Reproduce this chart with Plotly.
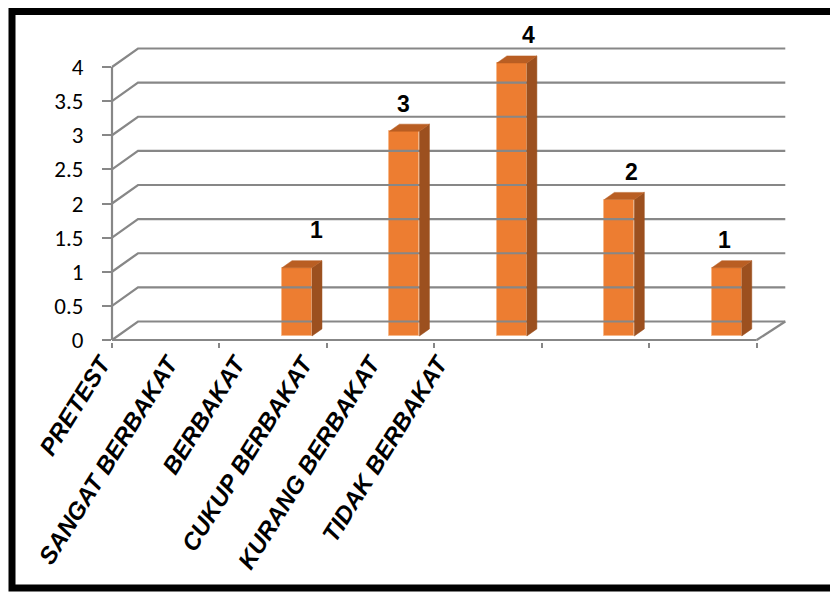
import plotly.graph_objects as go

# ---------------- data ----------------
categories = ["PRETEST", "SANGAT BERBAKAT", "BERBAKAT", "CUKUP BERBAKAT",
              "KURANG BERBAKAT", "TIDAK BERBAKAT"]
values = [0, 1, 3, 4, 2, 1]
y_tickvals = [0, 0.5, 1, 1.5, 2, 2.5, 3, 3.5, 4]
y_ticktext = ["0", "0.5", "1", "1.5", "2", "2.5", "3", "3.5", "4"]

# ---------------- geometry / style ----------------
W, H = 830, 592
X0_PX, CW_PX = 112.0, 107.45      # front plane: category edge 0 and px per category
Y0_PX, VH_PX = 340.0, 68.25       # front plane: value 0 and px per unit
DEP_DX_PX, DEP_DY_PX = 26.0, 18.5  # full depth shift (px)
DDX = DEP_DX_PX / CW_PX
DDY = DEP_DY_PX / VH_PX
BACK_SCALE = 1.004                 # slight perspective on back wall

PLOT_L, PLOT_R, PLOT_T, PLOT_B = 20, 815, 18, 342
YAXIS_PX = 111
xmin = (PLOT_L - X0_PX) / CW_PX
xmax = (PLOT_R - X0_PX) / CW_PX
ymin = (Y0_PX - PLOT_B) / VH_PX
ymax = (Y0_PX - PLOT_T) / VH_PX

GRID = "#878787"
FRONT = "#ED7D31"
SIDE = "#9C501F"
TOP = "#B95E23"

BAR_OFF, BAR_W = 0.530, 0.279      # bar front face position within category
D1, D2 = 0.216, 0.60               # bar front / back depth

n = len(categories)


def P(x, v, d):
    return x + d * DDX, v + d * DDY


fig = go.Figure()

# ---- back wall gridlines + left wall diagonals ----
gx, gy = [], []
for v in y_tickvals:
    bx0, by = P(0, v, 1.0)
    bx1 = bx0 + n * BACK_SCALE
    gx += [0, bx0, bx1, None]
    gy += [v, by, by, None]
# floor: right diagonal and front edge, front value axis line
fx1, fy1 = P(0, 0, 1.0)
gx += [n, fx1 + n * BACK_SCALE, None, 0, n, None, 0, 0]
gy += [0, fy1, None, 0, 0, None, 0, y_tickvals[-1]]
fig.add_trace(go.Scatter(x=gx, y=gy, mode="lines",
                         line=dict(color=GRID, width=2.2),
                         hoverinfo="skip", showlegend=False))

# ---- bars: side and top faces ----
sx, sy, tx, ty = [], [], [], []
bx, bv = [], []
for k, v in enumerate(values):
    if v <= 0:
        continue
    xl = k + BAR_OFF
    xr = xl + BAR_W
    a = P(xr, 0, D1); b = P(xr, v, D1); c = P(xr, v, D2); d = P(xr, 0, D2)
    sx += [a[0], b[0], c[0], d[0], a[0], None]
    sy += [a[1], b[1], c[1], d[1], a[1], None]
    e = P(xl, v, D1); f = P(xl, v, D2)
    tx += [e[0], b[0], c[0], f[0], e[0], None]
    ty += [e[1], b[1], c[1], f[1], e[1], None]
    bx.append(xl + BAR_W / 2 + D1 * DDX)
    bv.append(v)
fig.add_trace(go.Scatter(x=sx, y=sy, mode="lines", fill="toself",
                         fillcolor=SIDE, line=dict(color=SIDE, width=0.5),
                         hoverinfo="skip", showlegend=False))
fig.add_trace(go.Scatter(x=tx, y=ty, mode="lines", fill="toself",
                         fillcolor=TOP, line=dict(color=TOP, width=0.5),
                         hoverinfo="skip", showlegend=False))

# ---- bars: front faces ----
fig.add_trace(go.Bar(x=bx, y=bv, base=D1 * DDY, width=BAR_W,
                     marker=dict(color=FRONT, line=dict(color="#F6B88A", width=1)),
                     hoverinfo="skip", showlegend=False))

# ---- data labels ----
lab_dx = [0, 0.09, -0.10, 0.065, 0.02, -0.11]
lab_dy = [0, 0.45, 0.3, 0.3, 0.3, 0.3]
for k, v in enumerate(values):
    if v <= 0:
        continue
    lx, ly = P(k + BAR_OFF + BAR_W / 2, v, D2)
    fig.add_annotation(x=lx + lab_dx[k], y=ly + lab_dy[k], text="<b>%d</b>" % v,
                       showarrow=False, xref="x", yref="y", yanchor="middle",
                       font=dict(family="Liberation Sans, Arial", size=23,
                                 color="black"))

# ---- category label axis (invisible helper trace) ----
fig.add_trace(go.Scatter(x=list(range(n)), y=[0] * n, xaxis="x2", mode="markers",
                         marker=dict(opacity=0), hoverinfo="skip", showlegend=False))

LAB_X0, LAB_DX = 101.0, 67.4
fig.update_layout(
    width=W, height=H,
    margin=dict(l=PLOT_L, r=W - PLOT_R, t=PLOT_T, b=H - PLOT_B, pad=0),
    paper_bgcolor="white", plot_bgcolor="white",
    bargap=0,
    xaxis=dict(range=[xmin, xmax], showgrid=False, zeroline=False, showline=False,
               tickmode="array", tickvals=list(range(n + 1)), ticks="outside",
               ticklen=5, tickwidth=1.5, tickcolor=GRID, showticklabels=False),
    xaxis2=dict(overlaying="x", anchor="y", side="bottom",
                range=[(PLOT_L - LAB_X0) / LAB_DX, (PLOT_R - LAB_X0) / LAB_DX],
                showgrid=False, zeroline=False, showline=False,
                tickmode="array", tickvals=list(range(n)),
                ticktext=["<b><i>%s</i></b>" % c for c in categories],
                tickangle=-58, ticks="", ticklabelstandoff=2,
                tickfont=dict(family="Liberation Sans, Arial", size=24,
                              color="black", style="italic", weight="bold")),
    yaxis=dict(range=[ymin, ymax], showgrid=False, zeroline=False, showline=False,
               anchor="free", position=(YAXIS_PX - PLOT_L) / (PLOT_R - PLOT_L),
               tickmode="array", tickvals=y_tickvals, ticktext=y_ticktext,
               ticks="outside", ticklen=9, tickwidth=1.5, tickcolor=GRID,
               ticklabelstandoff=14,
               tickfont=dict(family="Carlito, Lato, sans-serif", size=23, color="black")),
)

# ---- outer black frame (paper coords) ----
def px2paper_x(px):
    return (px - PLOT_L) / (PLOT_R - PLOT_L)


def px2paper_y(py):
    return (PLOT_B - py) / (PLOT_B - PLOT_T)


fig.add_shape(type="rect", xref="paper", yref="paper",
              x0=px2paper_x(12), x1=px2paper_x(840),
              y0=px2paper_y(588), y1=px2paper_y(11.5),
              line=dict(color="black", width=7), fillcolor="rgba(0,0,0,0)",
              layer="above")

fig.write_html("out.html")
